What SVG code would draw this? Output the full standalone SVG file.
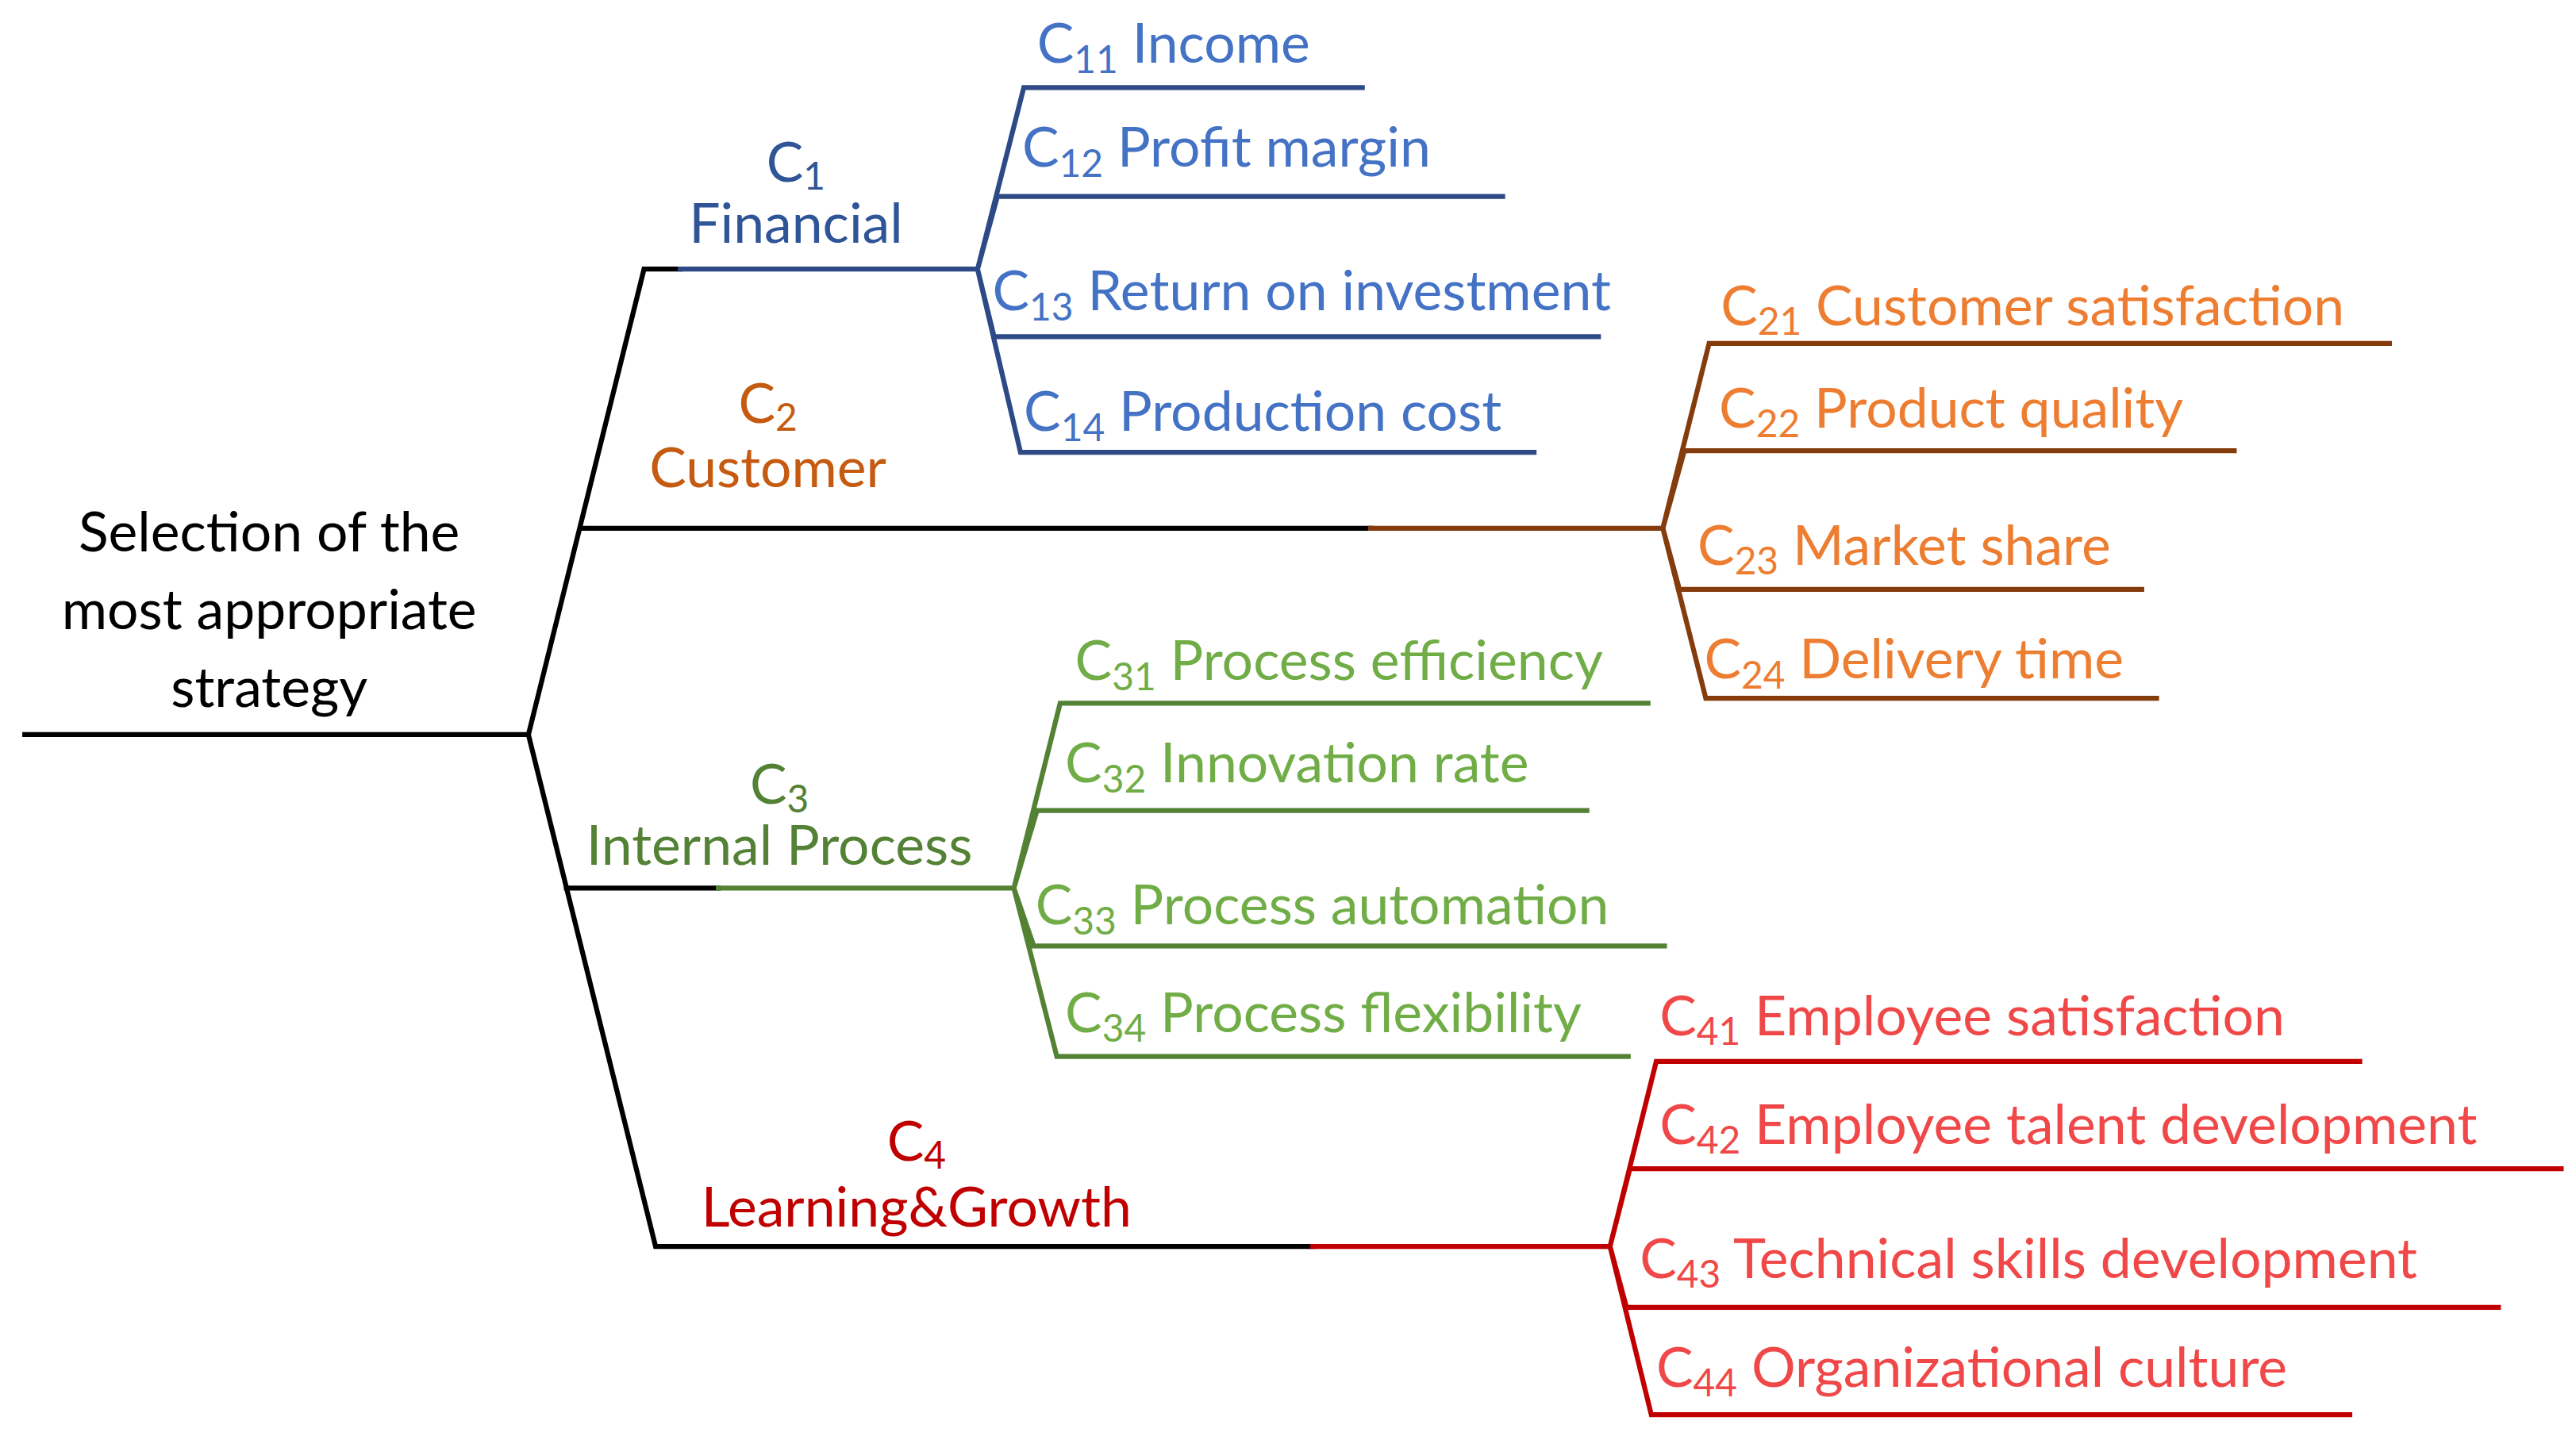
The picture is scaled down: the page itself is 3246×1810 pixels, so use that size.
<svg xmlns="http://www.w3.org/2000/svg" width="3246" height="1810" viewBox="0 0 3246 1810">
<style>
text{font-family:Lato,"Noto Sans",sans-serif;font-size:33.5px}
.s{font-size:23px}
.m{text-anchor:middle}
line,polyline{stroke-width:3;fill:none;stroke-linecap:square}
.k{stroke:#000}
.b{stroke:#2E4A86}.tb{fill:#4472C4}.hb{fill:#2F5597}
.o{stroke:#843C0C}.to{fill:#ED7D31}.ho{fill:#C55A11}
.g{stroke:#548235}.tg{fill:#70AD47}.hg{fill:#538135}
.r{stroke:#C00000}.tr{fill:#F04848}.hr{fill:#C00000}
</style>
<rect width="3246" height="1810" fill="#fff"/>
<g transform="scale(2.0808)">
<g id="connectors">
<polyline class="k" points="15,445 320,445"/>
<polyline class="k" points="412,163 390,163 320,445 397,755 795,755"/>
<polyline class="k" points="352,320 830,320"/>
<polyline class="k" points="343,538 435,538"/>
<polyline class="b" points="412,163 592,163"/>
<polyline class="b" points="825,53 620,53 592,163 604,119 910,119"/>
<polyline class="b" points="968,204 602,204 592,163 618,274 929,274"/>
<polyline class="o" points="830,320 1007,320"/>
<polyline class="o" points="1447,208 1035,208 1007,320 1020,273 1353,273"/>
<polyline class="o" points="1297,357 1017,357 1007,320 1033,423 1306,423"/>
<polyline class="g" points="435,538 614,538"/>
<polyline class="g" points="998,426 642,426 614,538 628,491 961,491"/>
<polyline class="g" points="1008,573 626,573 614,538 640,640 986,640"/>
<polyline class="r" points="795,755 975,755"/>
<polyline class="r" points="1429,643 1003,643 975,755 987,708 1551,708"/>
<polyline class="r" points="1513,792 985,792 975,755 1000,857 1423,857"/>
</g>
<g id="root"><text class="m" x="163" y="334">Selection of the</text><text class="m" x="163" y="381">most appropriate</text><text class="m" x="163" y="428">strategy</text></g>
<g id="c1"><text class="m hb" x="482" y="110">C<tspan class="s" dy="5">1</tspan></text><text class="m hb" x="482" y="147">Financial</text></g>
<g id="c2"><text class="m ho" x="465" y="256">C<tspan class="s" dy="5">2</tspan></text><text class="m ho" x="465" y="295">Customer</text></g>
<g id="c3"><text class="m hg" x="472" y="487">C<tspan class="s" dy="5">3</tspan></text><text class="m hg" x="472" y="524">Internal Process</text></g>
<g id="c4"><text class="m hr" x="555" y="703">C<tspan class="s" dy="5">4</tspan></text><text class="m hr" x="555" y="743">Learning&amp;Growth</text></g>
<g id="leaves1" class="tb">
<text x="628" y="38">C<tspan class="s" dy="6">11</tspan><tspan dy="-6"> Income</tspan></text>
<text x="619" y="101">C<tspan class="s" dy="6">12</tspan><tspan dy="-6"> Profit margin</tspan></text>
<text x="601" y="188">C<tspan class="s" dy="6">13</tspan><tspan dy="-6"> Return on investment</tspan></text>
<text x="620" y="261">C<tspan class="s" dy="6">14</tspan><tspan dy="-6"> Production cost</tspan></text>
</g>
<g id="leaves2" class="to">
<text x="1042" y="197">C<tspan class="s" dy="6">21</tspan><tspan dy="-6"> Customer satisfaction</tspan></text>
<text x="1041" y="259">C<tspan class="s" dy="6">22</tspan><tspan dy="-6"> Product quality</tspan></text>
<text x="1028" y="342">C<tspan class="s" dy="6">23</tspan><tspan dy="-6"> Market share</tspan></text>
<text x="1032" y="411">C<tspan class="s" dy="6">24</tspan><tspan dy="-6"> Delivery time</tspan></text>
</g>
<g id="leaves3" class="tg">
<text x="651" y="412">C<tspan class="s" dy="6">31</tspan><tspan dy="-6"> Process efficiency</tspan></text>
<text x="645" y="474">C<tspan class="s" dy="6">32</tspan><tspan dy="-6"> Innovation rate</tspan></text>
<text x="627" y="560">C<tspan class="s" dy="6">33</tspan><tspan dy="-6"> Process automation</tspan></text>
<text x="645" y="625">C<tspan class="s" dy="6">34</tspan><tspan dy="-6"> Process flexibility</tspan></text>
</g>
<g id="leaves4" class="tr">
<text x="1005" y="627">C<tspan class="s" dy="6">41</tspan><tspan dy="-6"> Employee satisfaction</tspan></text>
<text x="1005" y="693">C<tspan class="s" dy="6">42</tspan><tspan dy="-6"> Employee talent development</tspan></text>
<text x="993" y="774">C<tspan class="s" dy="6">43</tspan><tspan dy="-6"> Technical skills development</tspan></text>
<text x="1003" y="840">C<tspan class="s" dy="6">44</tspan><tspan dy="-6"> Organizational culture</tspan></text>
</g>
</g>
</svg>
